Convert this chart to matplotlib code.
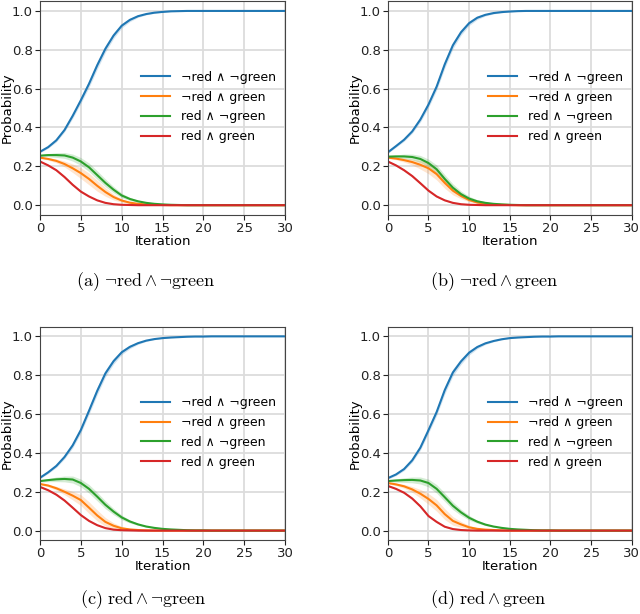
import numpy as np
from matplotlib import pyplot as plt

plt.rcParams['font.family'] = ['DejaVu Sans']
plt.rcParams['mathtext.fontset'] = 'cm'

iterations = np.arange(31)
series_names = ['¬red ∧ ¬green', '¬red ∧ green', 'red ∧ ¬green', 'red ∧ green']
colors = ['#1f77b4', '#ff7f0e', '#2ca02c', '#d62728']

# (a) ¬red ∧ ¬green
blue_a = [0.275, 0.299, 0.334, 0.387, 0.46, 0.54, 0.625, 0.72, 0.805, 0.873, 0.924, 0.954, 0.973, 0.984, 0.991, 0.995,
          0.998, 0.999, 1.0, 1.0, 1.0, 1.0, 1.0, 1.0, 1.0, 1.0, 1.0, 1.0, 1.0, 1.0, 1.0]
orange_a = [0.245, 0.238, 0.228, 0.212, 0.19, 0.165, 0.135, 0.10, 0.068, 0.042, 0.024, 0.013, 0.007, 0.004, 0.002, 0.001,
            0, 0, 0, 0, 0, 0, 0, 0, 0, 0, 0, 0, 0, 0, 0]
green_a = [0.255, 0.258, 0.258, 0.256, 0.245, 0.225, 0.195, 0.155, 0.115, 0.08, 0.05, 0.032, 0.02, 0.012, 0.007, 0.004,
           0.002, 0.001, 0, 0, 0, 0, 0, 0, 0, 0, 0, 0, 0, 0, 0]
red_a = [0.225, 0.205, 0.18, 0.145, 0.105, 0.07, 0.045, 0.025, 0.012, 0.005, 0.002, 0.001, 0, 0, 0, 0,
         0, 0, 0, 0, 0, 0, 0, 0, 0, 0, 0, 0, 0, 0, 0]

# (b) ¬red ∧ green
blue_b = [0.272, 0.304, 0.337, 0.38, 0.441, 0.518, 0.61, 0.725, 0.823, 0.89, 0.937, 0.965, 0.98, 0.989, 0.994, 0.997,
          0.999, 1.0, 1.0, 1.0, 1.0, 1.0, 1.0, 1.0, 1.0, 1.0, 1.0, 1.0, 1.0, 1.0, 1.0]
orange_b = [0.245, 0.24, 0.232, 0.222, 0.208, 0.19, 0.16, 0.115, 0.075, 0.048, 0.027, 0.014, 0.008, 0.004, 0.002, 0.001,
            0, 0, 0, 0, 0, 0, 0, 0, 0, 0, 0, 0, 0, 0, 0]
green_b = [0.25, 0.251, 0.251, 0.248, 0.238, 0.217, 0.185, 0.135, 0.09, 0.057, 0.034, 0.02, 0.012, 0.007, 0.004, 0.002,
           0.001, 0, 0, 0, 0, 0, 0, 0, 0, 0, 0, 0, 0, 0, 0]
red_b = [0.225, 0.205, 0.18, 0.15, 0.113, 0.075, 0.045, 0.025, 0.012, 0.005, 0.002, 0.001, 0, 0, 0, 0,
         0, 0, 0, 0, 0, 0, 0, 0, 0, 0, 0, 0, 0, 0, 0]

# (c) red ∧ ¬green
blue_c = [0.272, 0.30, 0.333, 0.379, 0.439, 0.518, 0.617, 0.719, 0.809, 0.872, 0.918, 0.946, 0.965, 0.978, 0.986, 0.991,
          0.994, 0.996, 0.998, 0.999, 0.999, 1.0, 1.0, 1.0, 1.0, 1.0, 1.0, 1.0, 1.0, 1.0, 1.0]
orange_c = [0.24, 0.232, 0.218, 0.2, 0.18, 0.157, 0.118, 0.078, 0.045, 0.025, 0.012, 0.006, 0.003, 0.001, 0, 0,
            0, 0, 0, 0, 0, 0, 0, 0, 0, 0, 0, 0, 0, 0, 0]
green_c = [0.255, 0.26, 0.264, 0.266, 0.263, 0.245, 0.215, 0.175, 0.133, 0.098, 0.068, 0.047, 0.032, 0.021, 0.014, 0.009,
           0.006, 0.004, 0.002, 0.001, 0.001, 0, 0, 0, 0, 0, 0, 0, 0, 0, 0]
red_c = [0.225, 0.208, 0.185, 0.155, 0.118, 0.08, 0.05, 0.028, 0.013, 0.005, 0.002, 0.001, 0, 0, 0, 0,
         0, 0, 0, 0, 0, 0, 0, 0, 0, 0, 0, 0, 0, 0, 0]

# (d) red ∧ green
blue_d = [0.27, 0.289, 0.317, 0.362, 0.427, 0.517, 0.61, 0.723, 0.814, 0.871, 0.916, 0.945, 0.964, 0.976, 0.985, 0.991,
          0.994, 0.996, 0.998, 0.999, 0.999, 1.0, 1.0, 1.0, 1.0, 1.0, 1.0, 1.0, 1.0, 1.0, 1.0]
orange_d = [0.245, 0.238, 0.228, 0.212, 0.19, 0.163, 0.13, 0.085, 0.05, 0.032, 0.017, 0.009, 0.005, 0.003, 0.001, 0,
            0, 0, 0, 0, 0, 0, 0, 0, 0, 0, 0, 0, 0, 0, 0]
green_d = [0.255, 0.258, 0.26, 0.261, 0.258, 0.245, 0.215, 0.172, 0.128, 0.094, 0.066, 0.046, 0.031, 0.021, 0.014, 0.009,
           0.006, 0.004, 0.002, 0.001, 0.001, 0, 0, 0, 0, 0, 0, 0, 0, 0, 0]
red_d = [0.23, 0.215, 0.195, 0.165, 0.125, 0.075, 0.045, 0.02, 0.008, 0.003, 0.001, 0, 0, 0, 0, 0,
         0, 0, 0, 0, 0, 0, 0, 0, 0, 0, 0, 0, 0, 0, 0]

# 置信带半宽（四个子图近似相同）
band_blue = [0.005, 0.006, 0.008, 0.01, 0.013, 0.016, 0.018, 0.02, 0.018, 0.015, 0.012, 0.009, 0.006, 0.004, 0.003, 0.002,
             0.001, 0.001, 0, 0, 0, 0, 0, 0, 0, 0, 0, 0, 0, 0, 0]
band_orange = [0.004, 0.006, 0.01, 0.015, 0.022, 0.028, 0.03, 0.028, 0.022, 0.015, 0.009, 0.005, 0.003, 0.002, 0.001, 0,
               0, 0, 0, 0, 0, 0, 0, 0, 0, 0, 0, 0, 0, 0, 0]
band_green = [0.005, 0.008, 0.012, 0.015, 0.018, 0.02, 0.022, 0.022, 0.02, 0.016, 0.012, 0.008, 0.005, 0.003, 0.002, 0.001,
              0, 0, 0, 0, 0, 0, 0, 0, 0, 0, 0, 0, 0, 0, 0]
band_red = [0.003, 0.004, 0.005, 0.006, 0.006, 0.005, 0.004, 0.003, 0.002, 0.001, 0, 0, 0, 0, 0, 0,
            0, 0, 0, 0, 0, 0, 0, 0, 0, 0, 0, 0, 0, 0, 0]

captions = [r'$\mathrm{(a)}\ \neg\mathrm{red}\wedge\neg\mathrm{green}$',
            r'$\mathrm{(b)}\ \neg\mathrm{red}\wedge\mathrm{green}$',
            r'$\mathrm{(c)}\ \mathrm{red}\wedge\neg\mathrm{green}$',
            r'$\mathrm{(d)}\ \mathrm{red}\wedge\mathrm{green}$']

panels = [
    [blue_a, orange_a, green_a, red_a],
    [blue_b, orange_b, green_b, red_b],
    [blue_c, orange_c, green_c, red_c],
    [blue_d, orange_d, green_d, red_d],
]
bands = [band_blue, band_orange, band_green, band_red]

# 子图位置 (left, bottom, width, height) 和标题位置
axes_rects = [(0.0625, 0.650, 0.383, 0.348), (0.606, 0.650, 0.381, 0.348),
              (0.0625, 0.120, 0.383, 0.348), (0.606, 0.120, 0.381, 0.348)]
caption_pos = [(0.228, 0.542), (0.772, 0.542), (0.224, 0.024), (0.763, 0.024)]

fig = plt.figure(figsize=(6.4, 6.14), dpi=100)

for rect, series, caption, cpos in zip(axes_rects, panels, captions, caption_pos):
    ax = fig.add_axes(rect)
    for values, band, color, name in zip(series, bands, colors, series_names):
        values = np.array(values)
        band = np.array(band)
        ax.fill_between(iterations, values - band, values + band, color=color, alpha=0.2, linewidth=0)
        ax.plot(iterations, values, color=color, linewidth=1.5, label=name)

    ax.set_xlim(0, 30)
    ax.set_ylim(-0.05, 1.05)
    ax.set_xticks([0, 5, 10, 15, 20, 25, 30])
    ax.set_yticks([0.0, 0.2, 0.4, 0.6, 0.8, 1.0])
    ax.grid(True, color='#dcdcdc', linewidth=1.3)
    ax.set_axisbelow(True)
    for spine in ax.spines.values():
        spine.set_color('#444444')
    ax.tick_params(labelsize=9.5, colors='#222222', length=3.5, pad=1.5)
    ax.set_xlabel('Iteration', fontsize=9.5, labelpad=0)
    ax.set_ylabel('Probability', fontsize=9.5)
    ax.yaxis.set_label_coords(-0.108, 0.5)

    ax.legend(loc='center right', bbox_to_anchor=(1.0, 0.505), frameon=False, fontsize=9,
              handlelength=2.3, handletextpad=0.9, labelspacing=0.55, borderaxespad=0.3)

    fig.text(cpos[0], cpos[1], caption, fontsize=13, ha='center', va='center')

plt.savefig('out.png', dpi=100)
